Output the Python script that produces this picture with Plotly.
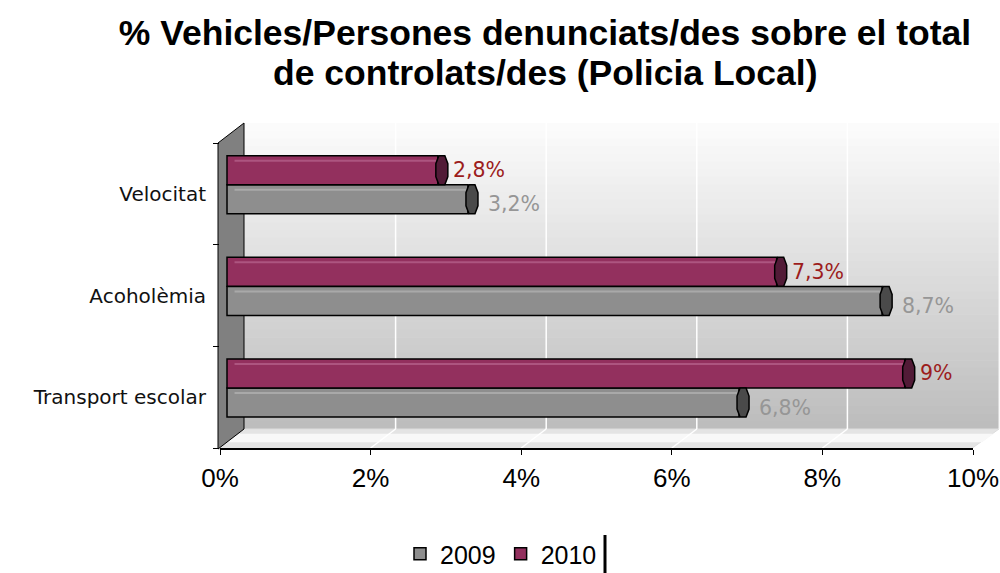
import plotly.graph_objects as go

# ---------------- data ----------------
categories = ["Velocitat", "Acoholèmia", "Transport escolar"]   # top to bottom
series_names = ["2009", "2010"]
values_2009 = [3.2, 8.7, 6.8]
values_2010 = [2.8, 7.3, 9.0]
x_tick_values = [0, 2, 4, 6, 8, 10]
x_tick_labels = [f"{v}%" for v in x_tick_values]
title_lines = ["% Vehicles/Persones denunciats/des sobre el total",
               "de controlats/des (Policia Local)"]


def fmt(v):
    return f"{v:g}".replace(".", ",") + "%"


# ---------------- geometry (pixels) ----------------
W, H = 1000, 573
L, R = 220, 973          # plot area left/right
T, B = 125, 448          # plot area top/bottom
BAND_TOP = 143           # top of category bands (front plane)
DX, DY = 26, 19          # 3D depth offset


def xp(px):
    return (px - L) / (R - L)


def yp(py):
    return (B - py) / (B - T)


n = len(categories)
pos = [n - 1 - i for i in range(n)]
unit_py = (B - BAND_TOP) / n
y_range = [-0.5, n - 0.5 + (BAND_TOP - T) / unit_py]
px_per_x = (R - L) / (x_tick_values[-1] - x_tick_values[0])
x2_range = [-7 / px_per_x, x_tick_values[-1] - 7 / px_per_x]

BAR_W = 0.285
offsets = {"2009": -0.053, "2010": 0.233}
fills = {"2009": "#8e8e8e", "2010": "#93305e"}
caps = {"2009": "#4a4a4a", "2010": "#521b37"}
stripes = {"2009": "#a9a9a9", "2010": "#ad5580"}
label_colors = {"2009": "#969696", "2010": "#9c1c1c"}
label_shift = {"2009": (18, -5), "2010": (13, 0)}
values = {"2009": values_2009, "2010": values_2010}

fig = go.Figure()
for name in series_names:
    fig.add_trace(go.Bar(
        name=name, orientation="h", x=values[name], y=pos,
        xaxis="x2", yaxis="y",
        width=BAR_W, offset=offsets[name] - BAR_W / 2,
        marker=dict(color=fills[name], line=dict(color="black", width=1.5)),
        hoverinfo="skip",
    ))

shapes = []
# back wall gradient
wall_top, wall_bot = 123, B - DY
steps = 40
c_top, c_bot = 252, 188
for k in range(steps):
    y0 = wall_top + (wall_bot - wall_top) * k / steps
    y1 = wall_top + (wall_bot - wall_top) * (k + 1) / steps + 0.6
    c = round(c_top + (c_bot - c_top) * (k + 0.5) / steps)
    shapes.append(dict(type="rect", xref="paper", yref="paper", layer="below",
                       x0=xp(L - 2 + DX), x1=xp(R + DX), y0=yp(y1), y1=yp(y0),
                       fillcolor=f"rgb({c},{c},{c})", line=dict(width=0)))
# floor
shapes.append(dict(type="path", xref="paper", yref="paper", layer="below",
                   path=f"M{xp(L-2)},{yp(B+1)} L{xp(L-2+DX)},{yp(wall_bot)} "
                        f"L{xp(R+DX)},{yp(wall_bot)} L{xp(R-2)},{yp(B+1)} Z",
                   fillcolor="#e4e4e4", line=dict(color="#dddddd", width=1)))
shapes.append(dict(type="path", xref="paper", yref="paper", layer="below",
                   path=f"M{xp(L-2+DX*0.35)},{yp(B+1-DY*0.35)} L{xp(L-2+DX*0.8)},{yp(B+1-DY*0.8)} "
                        f"L{xp(R+DX*0.8)},{yp(B+1-DY*0.8)} L{xp(R+DX*0.35)},{yp(B+1-DY*0.35)} Z",
                   fillcolor="#f8f8f8", line=dict(width=0)))
# grid lines on back wall and floor
for v in x_tick_values[1:-1]:
    shapes.append(dict(type="line", xref="x", xsizemode="pixel", xanchor=v,
                       x0=DX - 1, x1=DX - 1, yref="paper", y0=yp(wall_bot), y1=yp(wall_top),
                       layer="below", line=dict(color="white", width=1.5)))
    shapes.append(dict(type="line", xref="x", xsizemode="pixel", xanchor=v,
                       x0=DX - 1, x1=0, yref="paper", y0=yp(wall_bot), y1=yp(B),
                       layer="below", line=dict(color="white", width=1.5)))
# right edge of back wall
shapes.append(dict(type="line", xref="paper", yref="paper", layer="below",
                   x0=xp(R + DX), x1=xp(R + DX), y0=yp(wall_bot), y1=yp(wall_top + 40),
                   line=dict(color="#f4f4f4", width=1)))
# left wall
shapes.append(dict(type="path", xref="paper", yref="paper", layer="below",
                   path=f"M{xp(L-2)},{yp(BAND_TOP)} L{xp(L-2+DX)},{yp(wall_top)} "
                        f"L{xp(L-2+DX)},{yp(wall_bot)} L{xp(L-2)},{yp(B+1)} Z",
                   fillcolor="#808080", line=dict(color="black", width=1)))

# bar highlight stripes and end caps
half = BAR_W * unit_py / 2
for name in series_names:
    for p, v in zip(pos, values[name]):
        yc = p + offsets[name]
        shapes.append(dict(type="line", xref="x2", x0=0.1, x1=v - 0.02,
                           yref="y", ysizemode="pixel", yanchor=yc,
                           y0=half - 5, y1=half - 5,
                           line=dict(color=stripes[name], width=2)))
        shapes.append(dict(type="path", xref="x2", xsizemode="pixel", xanchor=v,
                           yref="y", ysizemode="pixel", yanchor=yc,
                           path=f"M1,{-half} L7,{-half} L10,{-half*0.45} L10,{half*0.45} "
                                f"L7,{half} L1,{half} L-2,{half*0.45} L-2,{-half*0.45} Z",
                           fillcolor=caps[name], line=dict(color="black", width=1.5)))

# cursor mark next to the legend
shapes.append(dict(type="line", xref="paper", yref="paper",
                   x0=xp(605), x1=xp(605), y0=yp(535), y1=yp(573),
                   line=dict(color="black", width=3)))

annotations = []
for name in series_names:
    dx, dy = label_shift[name]
    for p, v in zip(pos, values[name]):
        annotations.append(dict(x=v, y=p + offsets[name], xref="x2", yref="y",
                                text=fmt(v), showarrow=False, xanchor="left",
                                yanchor="middle", xshift=dx, yshift=dy,
                                font=dict(family="DejaVu Sans", size=20.5,
                                          color=label_colors[name])))
# second title line
annotations.append(dict(text=f"<b>{title_lines[1]}</b>", xref="paper", yref="paper",
                        x=xp(545), y=yp(73), xanchor="center", yanchor="middle",
                        showarrow=False,
                        font=dict(family="Liberation Sans, Arial, sans-serif",
                                  size=35.5, color="black")))

fig.update_layout(
    width=W, height=H,
    template="none",
    paper_bgcolor="white", plot_bgcolor="rgba(0,0,0,0)",
    font=dict(family="Liberation Sans, Arial, sans-serif", color="black"),
    margin=dict(l=L, r=W - R, t=T, b=H - B, pad=0),
    barmode="overlay",
    showlegend=True,
    title=dict(text=f"<b>{title_lines[0]}</b>",
               xref="container", x=545 / W, xanchor="center",
               yref="container", y=1 - 33 / H, yanchor="middle",
               font=dict(family="Liberation Sans, Arial, sans-serif", size=35.5, color="black")),
    xaxis=dict(range=[x_tick_values[0], x_tick_values[-1]], tickmode="array",
               tickvals=x_tick_values, ticktext=x_tick_labels,
               showgrid=False, zeroline=False, showline=True, linecolor="black",
               linewidth=1.5, ticks="outside", ticklen=5, tickcolor="black",
               tickfont=dict(size=26, family="Liberation Sans, Arial", color="black"),
               ticklabelstandoff=1, automargin=False, fixedrange=True),
    xaxis2=dict(range=x2_range, overlaying="x", anchor="y", visible=False,
                showgrid=False, zeroline=False, fixedrange=True),
    yaxis=dict(range=y_range, tickmode="array", tickvals=pos, ticktext=categories,
               showgrid=False, zeroline=False, showline=False, ticks="",
               minor=dict(tickmode="array",
                          tickvals=[p - 0.5 for p in range(n + 1)],
                          ticks="outside", ticklen=6, tickcolor="black", showgrid=False),
               tickfont=dict(size=20, family="DejaVu Sans", color="#111111"),
               ticklabelstandoff=13, automargin=False, fixedrange=True),
    legend=dict(orientation="h", xref="container", yref="container",
                x=400 / W, xanchor="left", y=1 - 554 / H, yanchor="middle",
                traceorder="normal",
                font=dict(size=25, family="Liberation Sans, Arial", color="black"),
                bgcolor="rgba(0,0,0,0)"),
    shapes=shapes,
    annotations=annotations,
)

fig.write_html("out.html", config={"displayModeBar": False},
               post_script="document.body.style.margin='0';")
